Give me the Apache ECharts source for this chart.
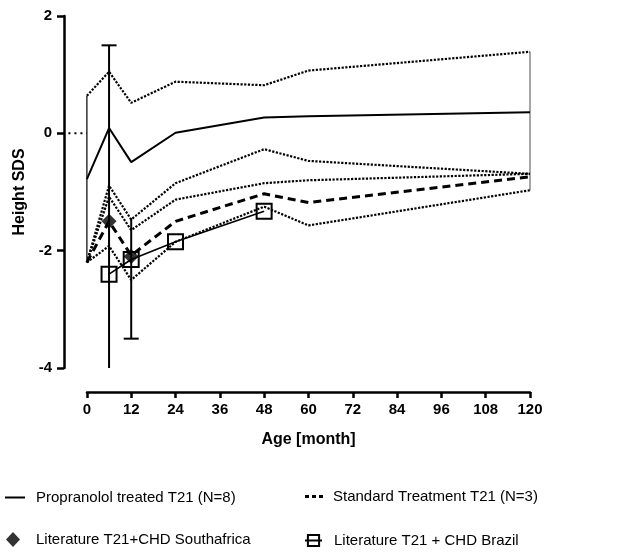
<!DOCTYPE html>
<html>
<head>
<meta charset="utf-8">
<script src="https://cdn.jsdelivr.net/npm/echarts@6/dist/echarts.min.js"></script>
<style>html,body{margin:0;padding:0;background:#fff}#c{width:617px;height:553px}</style>
</head>
<body>
<div id="c"></div>
<script>
// ---- data ----
const months    = [0, 6, 12, 24, 48, 60, 120];
const propMean  = [-0.78, 0.09, -0.49, 0.01, 0.27, 0.29, 0.36];
const propUpper = [0.64, 1.05, 0.52, 0.88, 0.82, 1.07, 1.39];
const propLower = [-2.2, -0.89, -1.47, -0.85, -0.27, -0.47, -0.69];
const stdMean   = [-2.2, -1.5, -2.08, -1.5, -1.03, -1.18, -0.74];
const stdUpper  = [-2.2, -1.08, -1.65, -1.13, -0.85, -0.8, -0.69];
const stdLower  = [-2.2, -1.92, -2.5, -1.85, -1.25, -1.57, -0.97];
const saMonths  = [6, 12];
const saValues  = [-1.5, -2.1];
const brMonths  = [6, 12, 24, 48];
const brValues  = [-2.4, -2.15, -1.85, -1.33];
const errMonths = [6, 12];
const errLow    = [-4, -3.5];
const errHigh   = [1.5, -1.45];
const errCapLow = [0, 1];
const errCapHigh= [1, 0];
const zeroLineStart = -5;
const xMin = -6.2, xMax = 120, xInterval = 12;
const yMin = -4, yMax = 2, yInterval = 2;

const names = {
  prop: 'Propranolol treated T21 (N=8)',
  std: 'Standard Treatment T21 (N=3)',
  sa: 'Literature T21+CHD Southafrica',
  br: 'Literature T21 + CHD Brazil'
};

const pair = (xs, ys) => xs.map((x, i) => [x, ys[i]]);
const FONT = '"Liberation Sans", Arial, sans-serif';
const dotted = {color: '#000', width: 2.2, type: [2.2, 1.5]};

const last = months.length - 1;

const chart = echarts.init(document.getElementById('c'), null, {renderer: 'canvas'});
const bandSeries = (name, ys) => ({
  name, type: 'line', xAxisIndex: 0, yAxisIndex: 0, data: pair(months, ys),
  symbol: 'none', lineStyle: dotted, z: 2, silent: true
});
const legendText = (pad) => ({fontFamily: FONT, fontSize: 15, color: '#000', padding: [0, 0, 0, pad]});

chart.setOption({
  animation: false,
  backgroundColor: '#fff',
  textStyle: {fontFamily: FONT},
  grid: [
    {left: 64, right: 87, top: 16, bottom: 185},
    {left: 87, right: 87, top: 16, bottom: 185}
  ],
  xAxis: [
    {gridIndex: 0, type: 'value', min: xMin, max: xMax, show: false},
    {gridIndex: 1, type: 'value', min: 0, max: xMax, interval: xInterval, offset: 24,
     name: 'Age [month]', nameLocation: 'middle', nameGap: 40,
     nameTextStyle: {fontFamily: FONT, fontWeight: 'bold', fontSize: 16, color: '#000'},
     axisLine: {show: true, onZero: false, lineStyle: {color: '#000', width: 2.5}},
     axisTick: {show: true, length: 6, lineStyle: {color: '#000', width: 2.5}},
     axisLabel: {fontFamily: FONT, fontWeight: 'bold', fontSize: 15, color: '#000', margin: 10},
     splitLine: {show: false}}
  ],
  yAxis: [
    {gridIndex: 0, type: 'value', min: yMin, max: yMax, interval: yInterval,
     name: 'Height SDS', nameLocation: 'middle', nameGap: 35,
     nameTextStyle: {fontFamily: FONT, fontWeight: 'bold', fontSize: 16, color: '#000'},
     axisLine: {show: true, onZero: false, lineStyle: {color: '#000', width: 2.5}},
     axisTick: {show: true, length: 7, lineStyle: {color: '#000', width: 2.5}},
     axisLabel: {fontFamily: FONT, fontWeight: 'bold', fontSize: 15, color: '#000', margin: 12},
     splitLine: {show: false}},
    {gridIndex: 1, type: 'value', min: yMin, max: yMax, show: false}
  ],
  legend: [
    {data: [{name: names.prop, icon: 'path://M0,0H20V2H0Z'}], left: 5, top: 490, padding: 0,
     itemWidth: 20, itemHeight: 2, textStyle: legendText(6)},
    {data: [{name: names.std, icon: 'path://M0,0H4V3H0ZM7,0H11V3H7ZM14,0H18V3H14Z'}], left: 305, top: 489, padding: 0,
     itemWidth: 18, itemHeight: 3, textStyle: legendText(5)},
    {data: [{name: names.sa, icon: 'path://M7,0L14,7.5L7,15L0,7.5Z'}], left: 6, top: 532, padding: 0,
     itemWidth: 14, itemHeight: 15, textStyle: legendText(11)},
    {data: [names.br], left: 304, top: 533, padding: 0, itemWidth: 17, itemHeight: 14,
     textStyle: legendText(7)}
  ],
  series: [
    bandSeries('propUpper', propUpper),
    bandSeries('propLower', propLower),
    bandSeries('stdUpper', stdUpper),
    bandSeries('stdLower', stdLower),
    {name: 'edge0', type: 'line', data: [[months[0], propUpper[0]], [months[0], stdLower[0]]],
     symbol: 'none', lineStyle: {color: '#000', width: 1.2}, z: 2, silent: true},
    {name: 'edgeEnd', type: 'line', data: [[months[last], propUpper[last]], [months[last], stdLower[last]]],
     symbol: 'none', lineStyle: {color: '#888', width: 1.5}, z: 1, silent: true},
    {name: 'zero', type: 'line', data: [[zeroLineStart, 0], [months[0], 0]],
     symbol: 'none', lineStyle: {color: '#000', width: 2, type: [2, 4]}, z: 2, silent: true},
    {name: names.prop, type: 'line', data: pair(months, propMean), symbol: 'none',
     itemStyle: {color: '#000'}, lineStyle: {color: '#000', width: 2}, z: 3},
    {name: names.std, type: 'line', data: pair(months, stdMean), symbol: 'none',
     itemStyle: {color: '#000'}, lineStyle: {color: '#000', width: 3, type: [8, 5]}, z: 3},
    {name: 'errorbars', type: 'custom', z: 4, silent: true,
     data: errMonths.map((m, i) => [m, errLow[i], errHigh[i], errCapLow[i], errCapHigh[i]]),
     renderItem: (params, api) => {
       const x = api.value(0);
       const pLo = api.coord([x, api.value(1)]);
       const pHi = api.coord([x, api.value(2)]);
       const st = {stroke: '#000', lineWidth: 2};
       const ch = [{type: 'line', shape: {x1: pLo[0], y1: pLo[1], x2: pHi[0], y2: pHi[1]}, style: st}];
       const w = 7.5;
       if (api.value(3)) ch.push({type: 'line', shape: {x1: pLo[0] - w, y1: pLo[1], x2: pLo[0] + w, y2: pLo[1]}, style: st});
       if (api.value(4)) ch.push({type: 'line', shape: {x1: pHi[0] - w, y1: pHi[1], x2: pHi[0] + w, y2: pHi[1]}, style: st});
       return {type: 'group', children: ch};
     }},
    {name: names.br, type: 'line', data: pair(brMonths, brValues), symbol: 'rect', symbolSize: 15,
     showAllSymbol: true,
     itemStyle: {color: 'rgba(255,255,255,0)', borderColor: '#000', borderWidth: 2},
     lineStyle: {color: '#000', width: 1.6}, z: 5},
    {name: names.sa, type: 'scatter', data: pair(saMonths, saValues), symbol: 'diamond', symbolSize: [15, 15],
     itemStyle: {color: '#000'}, z: 6}
  ]
});
</script>
</body>
</html>
